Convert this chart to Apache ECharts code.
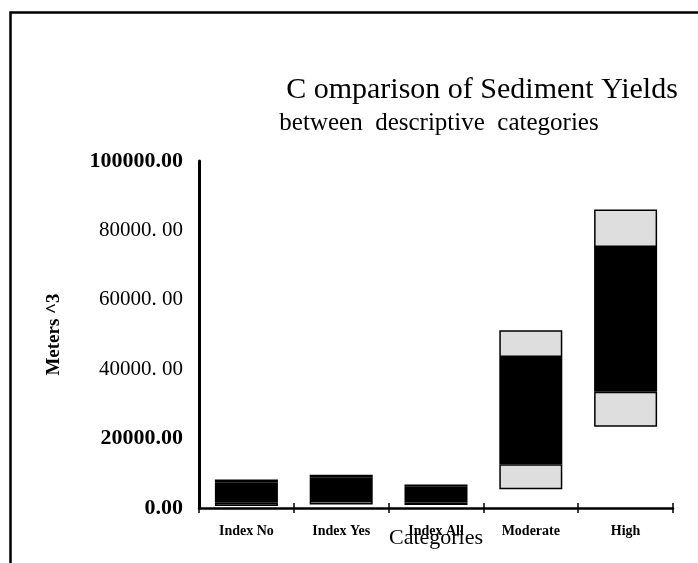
<!DOCTYPE html>
<html>
<head>
<meta charset="utf-8">
<script src="https://cdn.jsdelivr.net/npm/echarts@6/dist/echarts.min.js"></script>
<style>
  html, body { margin: 0; padding: 0; background: #fff; }
  #main { width: 698px; height: 563px; }
</style>
</head>
<body>
<div id="main"></div>
<script>
// categories and the four edges of each box (low, lower band top, upper band bottom, high)
var categories = ['Index No', 'Index Yes', 'Index All', 'Moderate', 'High'];
var lowVals  = [600, 1000, 900, 5400, 23400];
var q1Vals   = [1500, 2000, 1600, 12600, 33500];
var q3Vals   = [7400, 8700, 6100, 43500, 75200];
var highVals = [8200, 9600, 6800, 51200, 86000];

var yTickValues = [0, 20000, 40000, 60000, 80000, 100000];
var yTickLabels = ['0.00', '20000.00', '40000. 00', '60000. 00', '80000. 00', '100000.00'];
var yTickBold   = [true, true, false, false, false, true];

var serif = '"Liberation Serif", "DejaVu Serif", serif';

function diff(a, b) {
	return a.map(function(v, i) { return v - b[i]; });
}

var myChart = echarts.init(document.getElementById('main'));
var segStyle = function(color) {
	return { color: color, borderColor: '#000', borderWidth: 1.5 };
};

var option = {
	backgroundColor: '#fff',
	animation: false,
	title: [
		{
			text: 'C omparison of Sediment Yields',
			left: 477, top: 70, textAlign: 'center',
			textStyle: { fontFamily: serif, fontSize: 30, fontWeight: 'normal', color: '#000' }
		},
		{
			text: 'between  descriptive  categories',
			left: 434, top: 106, textAlign: 'center',
			textStyle: { fontFamily: serif, fontSize: 25, fontWeight: 'normal', color: '#000' }
		}
	],
	graphic: [
		{
			type: 'rect', left: 8, top: 10, z: 100,
			shape: { width: 800, height: 700 },
			style: { fill: 'none', stroke: '#000', lineWidth: 2.5 }
		}
	],
	grid: { left: 199, right: 25, top: 161, bottom: 55 },
	xAxis: [
		{
			type: 'category',
			data: categories,
			name: 'Categories',
			nameLocation: 'middle',
			nameGap: 19,
			nameMoveOverlap: false,
			nameTextStyle: { fontFamily: serif, fontSize: 22, color: '#000' },
			axisLine: { lineStyle: { color: '#000', width: 2.5 } },
			axisTick: { show: true, length: 5, lineStyle: { color: '#000', width: 1.5 } },
			axisLabel: { margin: 16, fontFamily: serif, fontSize: 14, fontWeight: 'bold', color: '#000' }
		},
		{
			type: 'category',
			data: categories,
			position: 'bottom',
			axisLine: { show: false },
			axisTick: { show: true, inside: true, length: 5, lineStyle: { color: '#000', width: 1.5 } },
			axisLabel: { show: false }
		}
	],
	yAxis: {
		type: 'value',
		min: 0, max: 100000, interval: 20000,
		name: 'Meters ^3',
		nameLocation: 'middle',
		nameGap: 135,
		nameMoveOverlap: false,
		nameTextStyle: { fontFamily: serif, fontSize: 19, fontWeight: 'bold', color: '#000' },
		axisLine: { show: true, lineStyle: { color: '#000', width: 3 } },
		axisTick: { show: false },
		splitLine: { show: false },
		axisLabel: {
			margin: 16,
			formatter: function(v) {
				var i = yTickValues.indexOf(v);
				if (i < 0) return '';
				return yTickBold[i] ? '{b|' + yTickLabels[i] + '}' : '{n|' + yTickLabels[i] + '}';
			},
			rich: {
				b: { fontFamily: serif, fontSize: 22, fontWeight: 'bold', color: '#000' },
				n: { fontFamily: serif, fontSize: 21, fontWeight: 'normal', color: '#000' }
			}
		}
	},
	series: [
		{
			name: 'base', type: 'bar', stack: 'box', barWidth: 63,
			itemStyle: { color: 'transparent' },
			data: lowVals
		},
		{
			name: 'lower', type: 'bar', stack: 'box', barWidth: 63,
			itemStyle: segStyle('#dedede'),
			data: diff(q1Vals, lowVals)
		},
		{
			name: 'middle', type: 'bar', stack: 'box', barWidth: 63,
			itemStyle: segStyle('#000'),
			data: diff(q3Vals, q1Vals)
		},
		{
			name: 'upper', type: 'bar', stack: 'box', barWidth: 63,
			itemStyle: segStyle('#dedede'),
			data: diff(highVals, q3Vals)
		}
	]
};

myChart.setOption(option);
</script>
</body>
</html>
